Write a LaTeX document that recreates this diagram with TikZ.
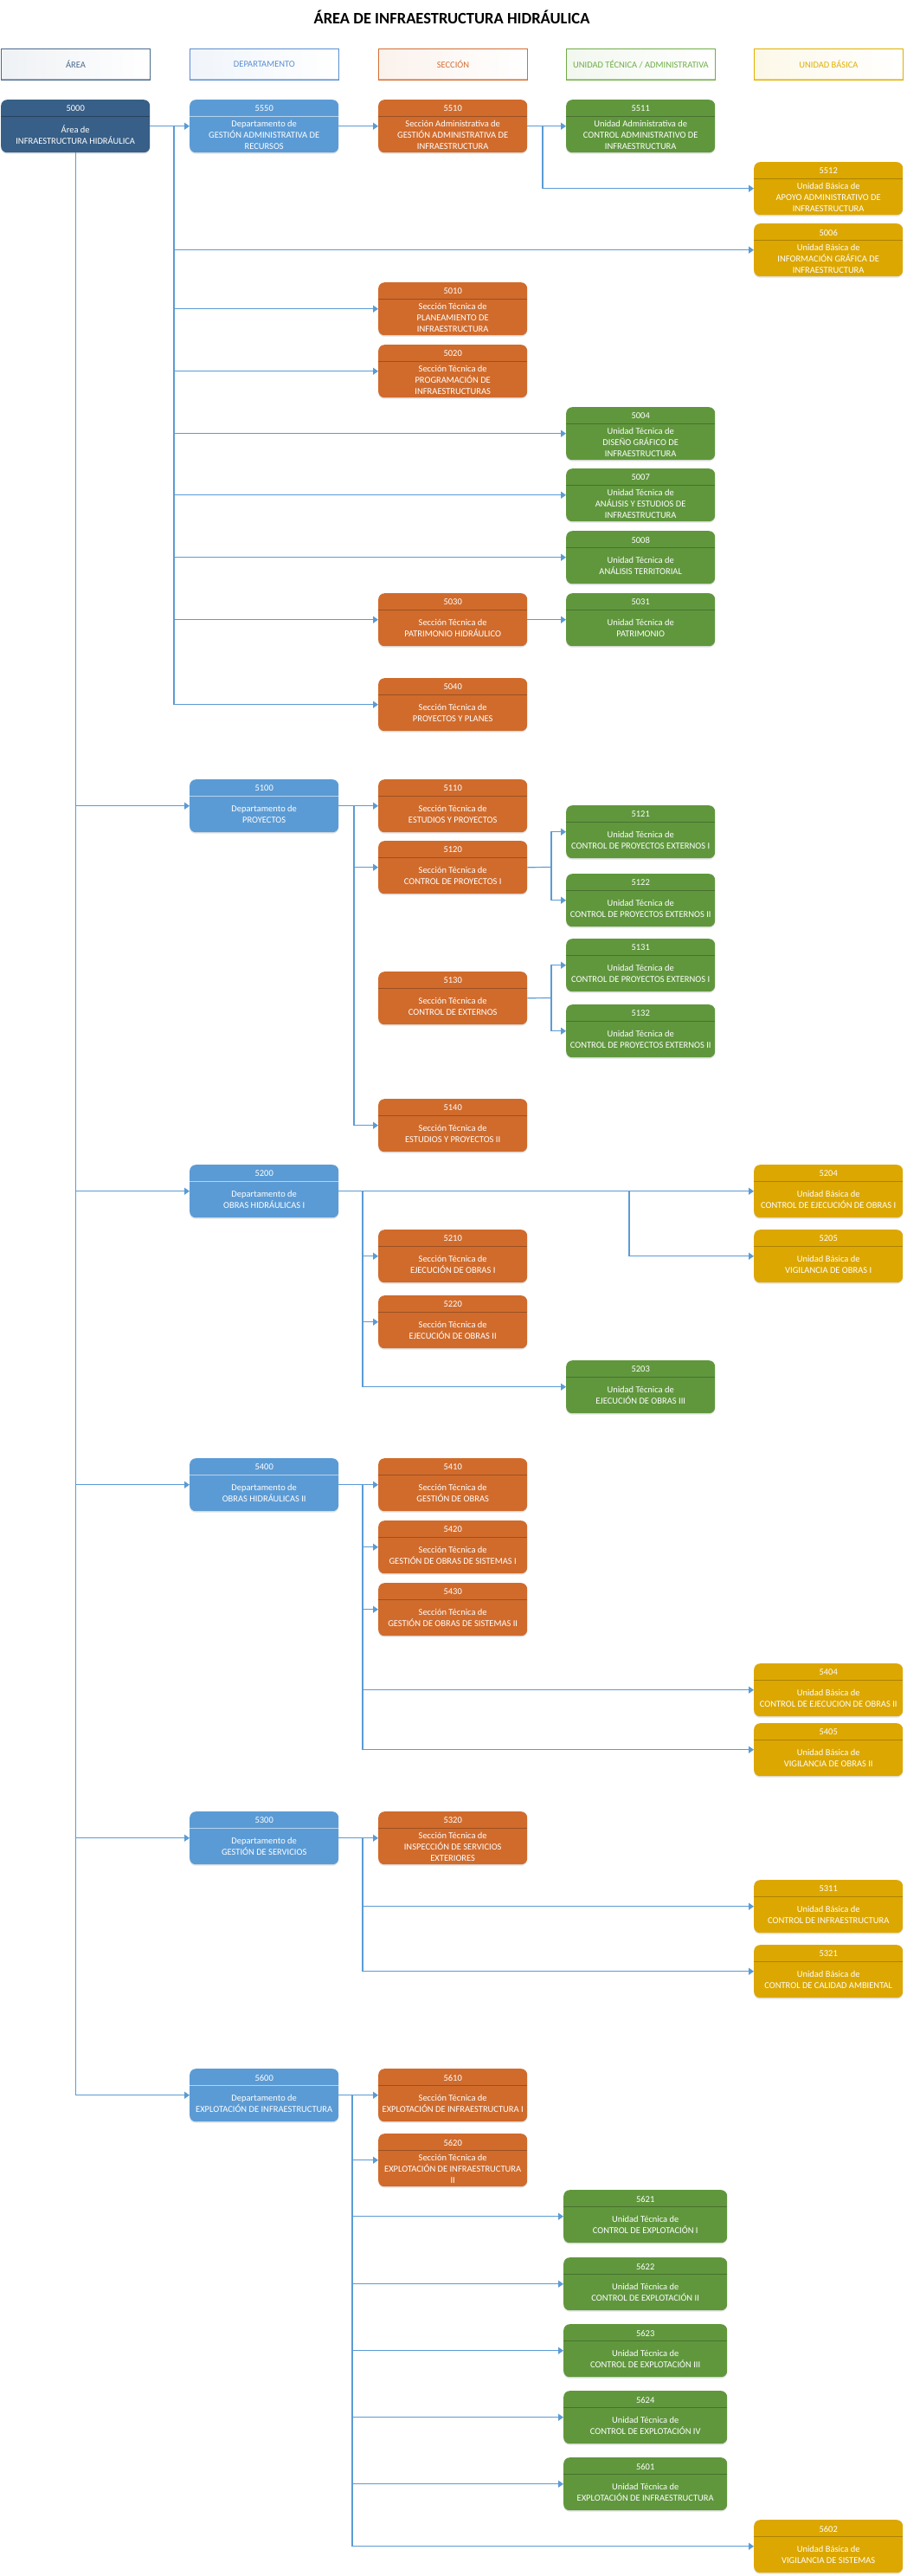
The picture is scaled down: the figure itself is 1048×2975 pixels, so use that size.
\documentclass[tikz,border=0pt]{standalone}
\usepackage{fontspec}
\setmainfont{Carlito}
\usetikzlibrary{arrows.meta,shadows}
\definecolor{areac}{HTML}{375F87}
\definecolor{deptc}{HTML}{5B9BD5}
\definecolor{secc}{HTML}{D06B2C}
\definecolor{tecc}{HTML}{60973D}
\definecolor{basc}{HTML}{DCA700}
\definecolor{connc}{HTML}{5B9BD5}
\definecolor{hareac}{HTML}{4A6A8E}
\definecolor{hdeptc}{HTML}{5B8FD0}
\definecolor{hsecc}{HTML}{D46E32}
\definecolor{htecc}{HTML}{70AD47}
\definecolor{hbasc}{HTML}{E0B000}
\newcommand{\orgunit}[6]{%
  \node[#2] (#1) at (#3,#4) {};
  \node[codetext] (#1-code) at ([yshift=-10.5pt]#1.north) {#5};
  \node[bodytext] (#1-body) at ([yshift=-40.5pt]#1.north) {#6};
}
\tikzset{
  orgbox/.style n args={2}{rectangle, rounded corners=7pt, minimum width=172pt,
    minimum height=61pt, inner sep=0pt, anchor=north west, fill=#1, draw=none,
    drop shadow={shadow xshift=0pt, shadow yshift=-1.5pt, opacity=0.25, fill=black!45},
    path picture={\draw[#2, line width=1.4pt]
      ([yshift=-19pt]path picture bounding box.north west) --
      ([yshift=-19pt]path picture bounding box.north east);}},
  areabox/.style={orgbox={areac}{areac!70!black}},
  deptbox/.style={orgbox={deptc}{deptc!45!white}},
  secbox/.style={orgbox={secc}{secc!75!black}},
  tecbox/.style={orgbox={tecc}{tecc!75!black}},
  tecwide/.style={orgbox={tecc}{tecc!75!black}, minimum width=189pt},
  basbox/.style={orgbox={basc}{basc!78!black}},
  codetext/.style={text=white, font=\fontsize{10.5}{13}\selectfont, inner sep=0pt},
  bodytext/.style={text=white, font=\fontsize{10.5}{13}\selectfont, align=center, inner sep=0pt},
  hdr/.style={rectangle, anchor=north west, minimum width=172pt, minimum height=36pt,
    inner sep=0pt, draw=#1, line width=0.9pt, left color=#1!9, right color=white,
    text=#1, font=\fontsize{10.5}{13}\selectfont,
    path picture={\draw[#1!55, line width=3pt]
      (path picture bounding box.south west) -- (path picture bounding box.south east);}},
  titletext/.style={font=\bfseries\fontsize{18.5}{22}\selectfont, text=black, inner sep=0pt},
  conn/.style={draw=connc, line width=1.2pt},
  arr/.style={conn, -{Triangle[length=6pt,width=8pt]}},
}
\begin{document}
\begin{tikzpicture}[x=1pt, y=-1pt]
\useasboundingbox[fill=white] (0,0) rectangle (1048,2975);

\node[titletext] (title) at (522,20) {ÁREA DE INFRAESTRUCTURA HIDRÁULICA};

\node[hdr=hareac] (hArea) at (1,56) {ÁREA};
\node[hdr=hdeptc] (hDept) at (219,56) {DEPARTAMENTO};
\node[hdr=hsecc] (hSec) at (437,56) {SECCIÓN};
\node[hdr=htecc] (hTec) at (654,56) {UNIDAD TÉCNICA / ADMINISTRATIVA};
\node[hdr=hbasc] (hBas) at (871,56) {UNIDAD BÁSICA};

% ---- row 1
\orgunit{n5000}{areabox}{1}{115}{5000}{Área de\\INFRAESTRUCTURA HIDRÁULICA}
\orgunit{n5550}{deptbox}{219}{115}{5550}{Departamento de\\GESTIÓN ADMINISTRATIVA DE\\RECURSOS}
\orgunit{n5510}{secbox}{437}{115}{5510}{Sección Administrativa de\\GESTIÓN ADMINISTRATIVA DE\\INFRAESTRUCTURA}
\orgunit{n5511}{tecbox}{654}{115}{5511}{Unidad Administrativa de\\CONTROL ADMINISTRATIVO DE\\INFRAESTRUCTURA}
\orgunit{n5512}{basbox}{871}{187}{5512}{Unidad Básica de\\APOYO ADMINISTRATIVO DE\\INFRAESTRUCTURA}
\orgunit{n5006}{basbox}{871}{258}{5006}{Unidad Básica de\\INFORMACIÓN GRÁFICA DE\\INFRAESTRUCTURA}
\orgunit{n5010}{secbox}{437}{326}{5010}{Sección Técnica de\\PLANEAMIENTO DE\\INFRAESTRUCTURA}
\orgunit{n5020}{secbox}{437}{398}{5020}{Sección Técnica de\\PROGRAMACIÓN DE\\INFRAESTRUCTURAS}
\orgunit{n5004}{tecbox}{654}{470}{5004}{Unidad Técnica de\\DISEÑO GRÁFICO DE\\INFRAESTRUCTURA}
\orgunit{n5007}{tecbox}{654}{541}{5007}{Unidad Técnica de\\ANÁLISIS Y ESTUDIOS DE\\INFRAESTRUCTURA}
\orgunit{n5008}{tecbox}{654}{613}{5008}{Unidad Técnica de\\ANÁLISIS TERRITORIAL}
\orgunit{n5030}{secbox}{437}{685}{5030}{Sección Técnica de\\PATRIMONIO HIDRÁULICO}
\orgunit{n5031}{tecbox}{654}{685}{5031}{Unidad Técnica de\\PATRIMONIO}
\orgunit{n5040}{secbox}{437}{783}{5040}{Sección Técnica de\\PROYECTOS Y PLANES}

% ---- 5100
\orgunit{n5100}{deptbox}{219}{900}{5100}{Departamento de\\PROYECTOS}
\orgunit{n5110}{secbox}{437}{900}{5110}{Sección Técnica de\\ESTUDIOS Y PROYECTOS}
\orgunit{n5120}{secbox}{437}{971}{5120}{Sección Técnica de\\CONTROL DE PROYECTOS I}
\orgunit{n5121}{tecbox}{654}{930}{5121}{Unidad Técnica de\\CONTROL DE PROYECTOS EXTERNOS I}
\orgunit{n5122}{tecbox}{654}{1009}{5122}{Unidad Técnica de\\CONTROL DE PROYECTOS EXTERNOS II}
\orgunit{n5130}{secbox}{437}{1122}{5130}{Sección Técnica de\\CONTROL DE EXTERNOS}
\orgunit{n5131}{tecbox}{654}{1084}{5131}{Unidad Técnica de\\CONTROL DE PROYECTOS EXTERNOS I}
\orgunit{n5132}{tecbox}{654}{1160}{5132}{Unidad Técnica de\\CONTROL DE PROYECTOS EXTERNOS II}
\orgunit{n5140}{secbox}{437}{1269}{5140}{Sección Técnica de\\ESTUDIOS Y PROYECTOS II}

% ---- 5200
\orgunit{n5200}{deptbox}{219}{1345}{5200}{Departamento de\\OBRAS HIDRÁULICAS I}
\orgunit{n5204}{basbox}{871}{1345}{5204}{Unidad Básica de\\CONTROL DE EJECUCIÓN DE OBRAS I}
\orgunit{n5205}{basbox}{871}{1420}{5205}{Unidad Básica de\\VIGILANCIA DE OBRAS I}
\orgunit{n5210}{secbox}{437}{1420}{5210}{Sección Técnica de\\EJECUCIÓN DE OBRAS I}
\orgunit{n5220}{secbox}{437}{1496}{5220}{Sección Técnica de\\EJECUCIÓN DE OBRAS II}
\orgunit{n5203}{tecbox}{654}{1571}{5203}{Unidad Técnica de\\EJECUCIÓN DE OBRAS III}

% ---- 5400
\orgunit{n5400}{deptbox}{219}{1684}{5400}{Departamento de\\OBRAS HIDRÁULICAS II}
\orgunit{n5410}{secbox}{437}{1684}{5410}{Sección Técnica de\\GESTIÓN DE OBRAS}
\orgunit{n5420}{secbox}{437}{1756}{5420}{Sección Técnica de\\GESTIÓN DE OBRAS DE SISTEMAS I}
\orgunit{n5430}{secbox}{437}{1828}{5430}{Sección Técnica de\\GESTIÓN DE OBRAS DE SISTEMAS II}
\orgunit{n5404}{basbox}{871}{1921}{5404}{Unidad Básica de\\CONTROL DE EJECUCION DE OBRAS II}
\orgunit{n5405}{basbox}{871}{1990}{5405}{Unidad Básica de\\VIGILANCIA DE OBRAS II}

% ---- 5300
\orgunit{n5300}{deptbox}{219}{2092}{5300}{Departamento de\\GESTIÓN DE SERVICIOS}
\orgunit{n5320}{secbox}{437}{2092}{5320}{Sección Técnica de\\INSPECCIÓN DE SERVICIOS\\EXTERIORES}
\orgunit{n5311}{basbox}{871}{2171}{5311}{Unidad Básica de\\CONTROL DE INFRAESTRUCTURA}
\orgunit{n5321}{basbox}{871}{2246}{5321}{Unidad Básica de\\CONTROL DE CALIDAD AMBIENTAL}

% ---- 5600
\orgunit{n5600}{deptbox}{219}{2389}{5600}{Departamento de\\EXPLOTACIÓN DE INFRAESTRUCTURA}
\orgunit{n5610}{secbox}{437}{2389}{5610}{Sección Técnica de\\EXPLOTACIÓN DE INFRAESTRUCTURA I}
\orgunit{n5620}{secbox}{437}{2464}{5620}{Sección Técnica de\\EXPLOTACIÓN DE INFRAESTRUCTURA\\II}
\orgunit{n5621}{tecwide}{651}{2529}{5621}{Unidad Técnica de\\CONTROL DE EXPLOTACIÓN I}
\orgunit{n5622}{tecwide}{651}{2607}{5622}{Unidad Técnica de\\CONTROL DE EXPLOTACIÓN II}
\orgunit{n5623}{tecwide}{651}{2684}{5623}{Unidad Técnica de\\CONTROL DE EXPLOTACIÓN III}
\orgunit{n5624}{tecwide}{651}{2761}{5624}{Unidad Técnica de\\CONTROL DE EXPLOTACIÓN IV}
\orgunit{n5601}{tecwide}{651}{2838}{5601}{Unidad Técnica de\\EXPLOTACIÓN DE INFRAESTRUCTURA}
\orgunit{n5602}{basbox}{871}{2910}{5602}{Unidad Básica de\\VIGILANCIA DE SISTEMAS}

% ---- bus coordinates
\coordinate (bus0) at (201,145.5);
\coordinate (bus5510) at (627,145.5);
\coordinate (bus5100) at (409,930.5);
\coordinate (bus5120) at (637,1001.5);
\coordinate (bus5130) at (637,1152.5);
\coordinate (bus5200a) at (419,1375.5);
\coordinate (bus5200b) at (727,1375.5);
\coordinate (bus5400) at (419,1714.5);
\coordinate (bus5300) at (419,2122.5);
\coordinate (bus5600) at (407,2419.5);

% ---- connectors: area trunk
\foreach \d in {n5100,n5200,n5400,n5300,n5600}
  \draw[arr] (n5000.south) |- (\d.west);
\draw[arr] (n5000.east) -- (n5550.west);
\foreach \d in {n5006,n5010,n5020,n5004,n5007,n5008,n5030,n5040}
  \draw[arr] (bus0) |- (\d.west);
\draw[arr] (n5550.east) -- (n5510.west);
\draw[arr] (n5510.east) -- (n5511.west);
\draw[arr] (bus5510) |- (n5512.west);
\draw[arr] (n5030.east) -- (n5031.west);

% 5100
\draw[arr] (n5100.east) -- (n5110.west);
\foreach \d in {n5120,n5140}
  \draw[arr] (bus5100) |- (\d.west);
\draw[conn] (n5120.east) -- (bus5120);
\foreach \d in {n5121,n5122}
  \draw[arr] (bus5120) |- (\d.west);
\draw[conn] (n5130.east) -- (bus5130);
\foreach \d in {n5131,n5132}
  \draw[arr] (bus5130) |- (\d.west);

% 5200
\draw[arr] (n5200.east) -- (n5204.west);
\foreach \d in {n5210,n5220,n5203}
  \draw[arr] (bus5200a) |- (\d.west);
\draw[arr] (bus5200b) |- (n5205.west);

% 5400
\draw[arr] (n5400.east) -- (n5410.west);
\foreach \d in {n5420,n5430,n5404,n5405}
  \draw[arr] (bus5400) |- (\d.west);

% 5300
\draw[arr] (n5300.east) -- (n5320.west);
\foreach \d in {n5311,n5321}
  \draw[arr] (bus5300) |- (\d.west);

% 5600
\draw[arr] (n5600.east) -- (n5610.west);
\foreach \d in {n5620,n5621,n5622,n5623,n5624,n5601,n5602}
  \draw[arr] (bus5600) |- (\d.west);
\end{tikzpicture}
\end{document}
